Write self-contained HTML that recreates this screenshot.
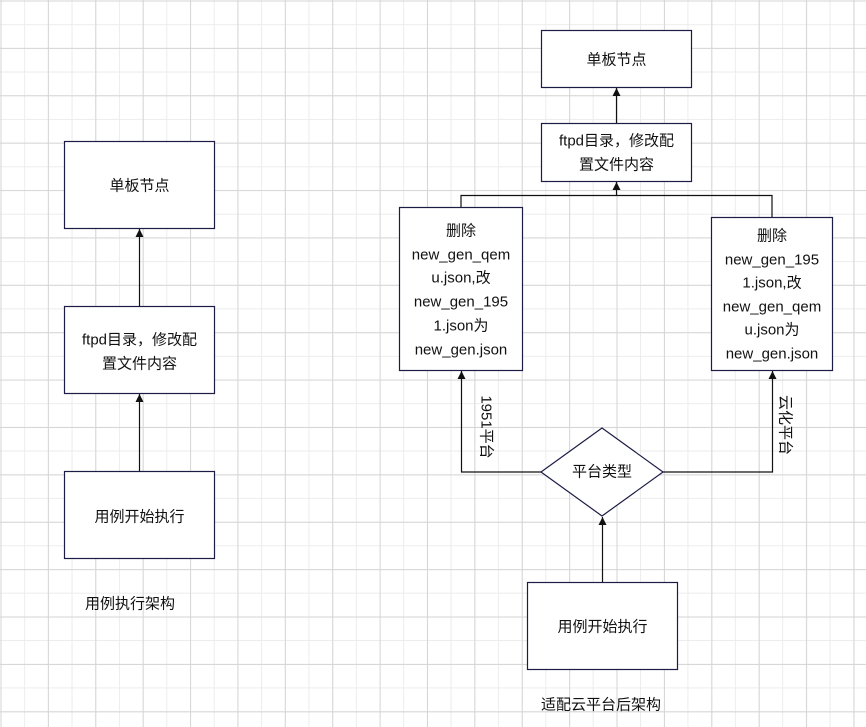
<!DOCTYPE html>
<html><head><meta charset="utf-8"><style>
html,body{margin:0;padding:0;}
body{width:866px;height:727px;overflow:hidden;background:#fff;
background-image:
linear-gradient(to right,#d6d6d6 1px,transparent 1px),
linear-gradient(to bottom,#d6d6d6 1px,transparent 1px),
linear-gradient(to right,#ececec 1px,transparent 1px),
linear-gradient(to bottom,#ececec 1px,transparent 1px);
background-size:47.4px 47.4px,47.4px 47.4px,23.7px 23.7px,23.7px 23.7px;
background-position:0.5px 0.5px;}
svg{position:absolute;left:0;top:0;}
text{font-family:"Liberation Sans","Noto Sans CJK SC",sans-serif;font-size:15px;fill:#111;text-anchor:middle;dominant-baseline:central;}
</style></head><body>
<svg width="866" height="727" viewBox="0 0 866 727">
<defs><marker id="a" markerWidth="8" markerHeight="8" refX="8" refY="4" orient="auto" markerUnits="userSpaceOnUse" viewBox="0 0 8 8"><path d="M0,0 L8,4 L0,8 Z" fill="#111"/></marker></defs>
<g fill="#fff" stroke="#1c1c44" stroke-width="1.2">
<rect x="64.5" y="141.5" width="150" height="87"/>
<rect x="64.5" y="306.5" width="150" height="87"/>
<rect x="64.5" y="471.5" width="150" height="87"/>
<rect x="541.5" y="30.5" width="150" height="57"/>
<rect x="541.5" y="123.5" width="150" height="58"/>
<rect x="399.5" y="207.5" width="123" height="163"/>
<rect x="711.5" y="217.5" width="121" height="153"/>
<polygon points="602,428 663,472 602,516 541,472"/>
<rect x="527.5" y="582.5" width="150" height="87"/>
</g>
<g stroke="#111" stroke-width="1.2" fill="none">
<path d="M139.5,306 V229" marker-end="url(#a)"/>
<path d="M139.5,471 V394" marker-end="url(#a)"/>
<path d="M616.5,123 V88" marker-end="url(#a)"/>
<path d="M461,207 V195.5 H772 V217"/>
<path d="M616.5,195.5 V182" marker-end="url(#a)"/>
<path d="M541,472 H461.5 V371" marker-end="url(#a)"/>
<path d="M663,472 H772.5 V371" marker-end="url(#a)"/>
<path d="M602.5,582 V517" marker-end="url(#a)"/>
</g>
<text x="139.5" y="186">单板节点</text>
<text x="139.5" y="340">ftpd目录，修改配</text>
<text x="139.5" y="364">置文件内容</text>
<text x="139.5" y="517">用例开始执行</text>
<text x="130" y="604">用例执行架构</text>
<text x="616.5" y="60">单板节点</text>
<text x="616.5" y="141">ftpd目录，修改配</text>
<text x="616.5" y="165">置文件内容</text>
<text x="461" y="231">删除</text>
<text x="461" y="255">new_gen_qem</text>
<text x="461" y="278">u.json,改</text>
<text x="461" y="302">new_gen_195</text>
<text x="461" y="326">1.json为</text>
<text x="461" y="350">new_gen.json</text>
<text x="772" y="236">删除</text>
<text x="772" y="260">new_gen_195</text>
<text x="772" y="283">1.json,改</text>
<text x="772" y="307">new_gen_qem</text>
<text x="772" y="330">u.json为</text>
<text x="772" y="354">new_gen.json</text>
<text x="602" y="472">平台类型</text>
<text x="602.5" y="627">用例开始执行</text>
<text x="601" y="705">适配云平台后架构</text>
<text transform="translate(486,427) rotate(90)">1951平台</text>
<text transform="translate(785,425) rotate(90)">云化平台</text>
</svg>
</body></html>
